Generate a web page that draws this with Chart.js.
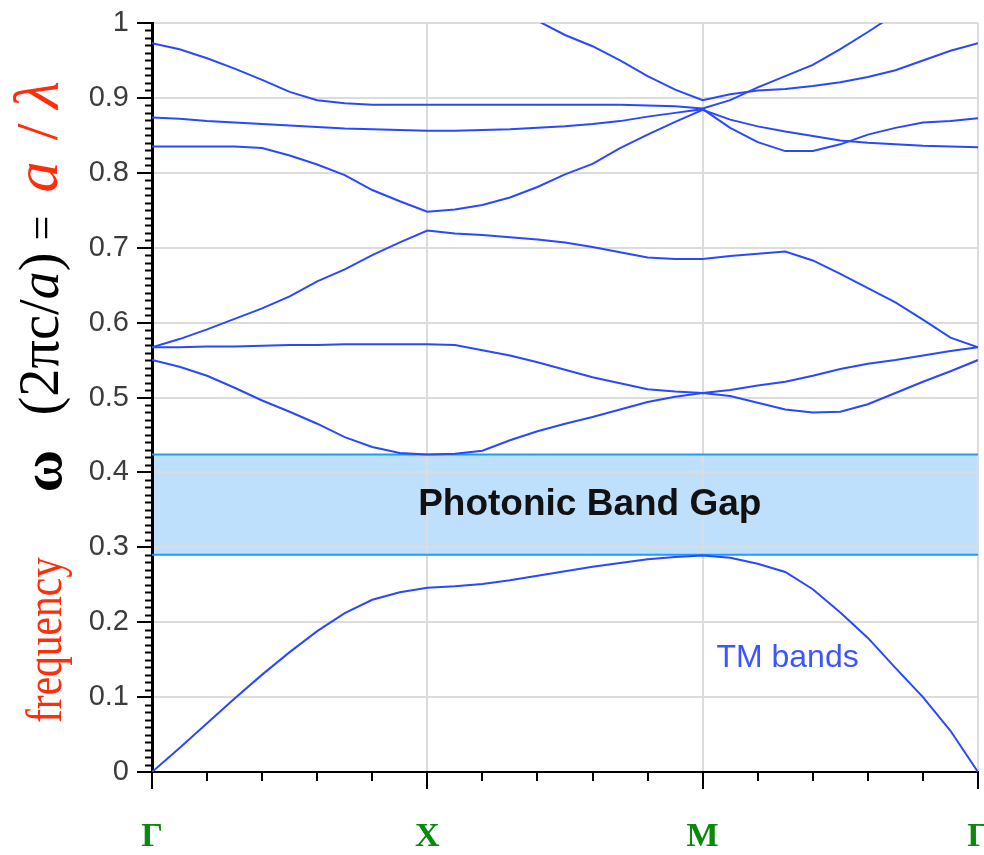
<!DOCTYPE html>
<html>
<head>
<meta charset="utf-8">
<title>TM photonic band structure</title>
<script src="https://cdn.jsdelivr.net/npm/chart.js@4.4.1/dist/chart.umd.min.js"></script>
<style>
  html, body { margin: 0; padding: 0; background: #ffffff; }
  #wrap { width: 984px; height: 855px; }
</style>
</head>
<body>
<div id="wrap"><canvas id="bands" width="984" height="855"></canvas></div>
<script>
// Wave-vector path Γ → X → M → Γ, each segment spanning one unit
const kPath = [0.0, 0.1, 0.2, 0.3, 0.4, 0.5, 0.6, 0.7, 0.8, 0.9,
               1.0, 1.1, 1.2, 1.3, 1.4, 1.5, 1.6, 1.7, 1.8, 1.9,
               2.0, 2.1, 2.2, 2.3, 2.4, 2.5, 2.6, 2.7, 2.8, 2.9, 3.0];
const kLabels = ['Γ', 'X', 'M', 'Γ'];
const yTickLabels = ['0', '0.1', '0.2', '0.3', '0.4', '0.5', '0.6', '0.7', '0.8', '0.9', '1'];

// TM band frequencies ωa/2πc sampled along kPath (null = outside the plotted range)
const band1 = [0.000, 0.032, 0.065, 0.098, 0.130, 0.160, 0.188, 0.212, 0.230, 0.240,
               0.246, 0.248, 0.251, 0.256, 0.262, 0.268, 0.274, 0.279, 0.284, 0.287,
               0.289, 0.286, 0.278, 0.267, 0.244, 0.213, 0.179, 0.139, 0.100, 0.055, 0.000];
const band2 = [0.550, 0.541, 0.529, 0.513, 0.496, 0.481, 0.465, 0.447, 0.434, 0.426,
               0.424, 0.425, 0.429, 0.443, 0.455, 0.465, 0.474, 0.484, 0.494, 0.501,
               0.506, 0.502, 0.493, 0.484, 0.480, 0.481, 0.491, 0.506, 0.521, 0.535, 0.550];
const band3 = [0.567, 0.567, 0.568, 0.568, 0.569, 0.570, 0.570, 0.571, 0.571, 0.571,
               0.571, 0.570, 0.563, 0.556, 0.547, 0.537, 0.527, 0.519, 0.511, 0.508,
               0.506, 0.510, 0.516, 0.521, 0.529, 0.538, 0.545, 0.550, 0.556, 0.562, 0.567];
const band4 = [0.567, 0.578, 0.591, 0.605, 0.619, 0.635, 0.655, 0.671, 0.690, 0.707,
               0.723, 0.719, 0.717, 0.714, 0.711, 0.707, 0.701, 0.694, 0.687, 0.685,
               0.685, 0.689, 0.692, 0.695, 0.683, 0.665, 0.646, 0.627, 0.604, 0.580, 0.567];
const band5 = [0.835, 0.835, 0.835, 0.835, 0.833, 0.823, 0.811, 0.797, 0.777, 0.762,
               0.748, 0.751, 0.757, 0.767, 0.781, 0.798, 0.812, 0.833, 0.851, 0.868,
               0.884, 0.871, 0.862, 0.855, 0.849, 0.843, 0.840, 0.838, 0.836, 0.835, 0.834];
const band6 = [0.874, 0.872, 0.869, 0.867, 0.865, 0.863, 0.861, 0.859, 0.858, 0.857,
               0.856, 0.856, 0.857, 0.858, 0.860, 0.862, 0.865, 0.869, 0.875, 0.880,
               0.885, 0.860, 0.841, 0.829, 0.829, 0.838, 0.851, 0.860, 0.867, 0.869, 0.873];
const band7 = [0.973, 0.965, 0.953, 0.939, 0.924, 0.908, 0.897, 0.893, 0.891, 0.891,
               0.891, 0.891, 0.891, 0.891, 0.891, 0.891, 0.891, 0.891, 0.890, 0.889,
               0.886, 0.897, 0.914, 0.929, 0.944, 0.965, 0.988, 1.012, null, null, null];
const band8 = [null, null, null, null, null, null, null, null, null, null,
               null, null, null, null, 1.003, 0.984, 0.969, 0.950, 0.929, 0.911,
               0.897, 0.905, 0.910, 0.912, 0.916, 0.921, 0.928, 0.937, 0.950, 0.963, 0.973];

// Complete photonic band gap between the first and second TM bands
const gapLow = 0.290;
const gapHigh = 0.424;

const gapLabel = 'Photonic Band Gap';
const seriesLabel = 'TM bands';

const LINE_BLUE = '#2a48ff';
const GRID_GREY = '#dcdcdc';
const TITLE_RED = 'rgb(255,45,10)';

const bands = [band1, band2, band3, band4, band5, band6, band7, band8];
const toPoints = vals => vals.map((v, i) => ({ x: kPath[i], y: v }));

// Shaded band-gap strip: fill under the grid, edges over it
const gapPlugin = {
  id: 'gapStrip',
  beforeDraw(chart) {
    const { ctx, chartArea, scales } = chart;
    const yTop = scales.y.getPixelForValue(gapHigh);
    const yBot = scales.y.getPixelForValue(gapLow);
    ctx.save();
    ctx.fillStyle = 'rgb(191,224,252)';
    ctx.fillRect(chartArea.left, yTop, chartArea.right - chartArea.left, yBot - yTop);
    ctx.restore();
  },
  beforeDatasetsDraw(chart) {
    const { ctx, chartArea, scales } = chart;
    ctx.save();
    ctx.strokeStyle = '#1e9cff';
    ctx.lineWidth = 2;
    [gapHigh, gapLow].forEach(v => {
      const y = scales.y.getPixelForValue(v);
      ctx.beginPath();
      ctx.moveTo(chartArea.left, y);
      ctx.lineTo(chartArea.right, y);
      ctx.stroke();
    });
    ctx.restore();
  },
  afterDatasetsDraw(chart) {
    const { ctx, scales } = chart;
    ctx.save();
    ctx.fillStyle = '#111111';
    ctx.font = 'bold 37px "Liberation Sans", Arial, sans-serif';
    ctx.textAlign = 'center';
    ctx.textBaseline = 'middle';
    ctx.fillText(gapLabel, scales.x.getPixelForValue(1.59), scales.y.getPixelForValue((gapLow + gapHigh) / 2));
    ctx.fillStyle = '#3b55ff';
    ctx.font = '32px "Liberation Sans", Arial, sans-serif';
    ctx.textAlign = 'left';
    ctx.textBaseline = 'alphabetic';
    ctx.fillText(seriesLabel, scales.x.getPixelForValue(2.05), scales.y.getPixelForValue(0.14));
    ctx.restore();
  }
};

// Short minor tick marks on both axes
const minorTickPlugin = {
  id: 'minorTicks',
  afterDraw(chart) {
    const { ctx, chartArea, scales } = chart;
    ctx.save();
    ctx.strokeStyle = '#000';
    ctx.lineWidth = 2;
    ctx.beginPath();
    for (let i = 1; i < 100; i++) {
      if (i % 10 === 0) continue;
      const y = Math.round(scales.y.getPixelForValue(i / 100)) + 0.5;
      ctx.moveTo(chartArea.left - 7, y);
      ctx.lineTo(chartArea.left, y);
    }
    for (let i = 1; i < 15; i++) {
      if (i % 5 === 0) continue;
      const x = Math.round(scales.x.getPixelForValue(i / 5));
      ctx.moveTo(x, chartArea.bottom);
      ctx.lineTo(x, chartArea.bottom + 9);
    }
    ctx.stroke();
    ctx.restore();
  }
};

// Rotated, mixed-style y-axis title; optional length squeezes a group along its reading direction
function drawRotated(ctx, baseX, centerY, runs, length) {
  let total = 0;
  runs.forEach(r => { ctx.font = r.font; r.w = ctx.measureText(r.text).width; total += r.w; });
  const sx = length ? length / total : 1;
  ctx.save();
  ctx.translate(baseX, centerY);
  ctx.rotate(-Math.PI / 2);
  ctx.scale(sx, 1);
  ctx.textAlign = 'left';
  ctx.textBaseline = 'alphabetic';
  let pos = -total / 2;
  runs.forEach(r => {
    ctx.font = r.font;
    ctx.fillStyle = r.color;
    ctx.fillText(r.text, pos, 0);
    pos += r.w;
  });
  ctx.restore();
}

const SERIF = '"Liberation Serif", "Times New Roman", serif';
const axisTitlePlugin = {
  id: 'axisTitle',
  afterDraw(chart) {
    const ctx = chart.ctx;
    drawRotated(ctx, 61, 640, [{ text: 'frequency', font: '50px ' + SERIF, color: TITLE_RED }], 166);
    drawRotated(ctx, 61, 471, [{ text: 'ω', font: 'bold 58px ' + SERIF, color: '#000' }]);
    drawRotated(ctx, 58, 334, [
      { text: '(2πc/', font: '56px ' + SERIF, color: '#000' },
      { text: 'a', font: 'italic 56px ' + SERIF, color: '#000' },
      { text: ')', font: '56px ' + SERIF, color: '#000' }
    ], 163);
    drawRotated(ctx, 56, 228, [{ text: '=', font: '44px ' + SERIF, color: '#000' }]);
    drawRotated(ctx, 57, 177, [{ text: 'a', font: 'italic 62px ' + SERIF, color: TITLE_RED }]);
    drawRotated(ctx, 57, 132, [{ text: '/', font: '60px ' + SERIF, color: TITLE_RED }]);
    drawRotated(ctx, 58, 95, [{ text: 'λ', font: 'italic 64px ' + SERIF, color: TITLE_RED }]);
  }
};

new Chart(document.getElementById('bands'), {
  type: 'line',
  data: {
    datasets: bands.map((b, i) => ({
      label: 'band ' + (i + 1),
      data: toPoints(b),
      borderColor: LINE_BLUE,
      borderWidth: 2,
      pointRadius: 0,
      tension: 0,
      fill: false,
      spanGaps: false
    }))
  },
  options: {
    responsive: false,
    animation: false,
    devicePixelRatio: 1,
    layout: { padding: { top: 23, right: 6, left: 0, bottom: 0 } },
    plugins: { legend: { display: false }, tooltip: { enabled: false } },
    scales: {
      x: {
        type: 'linear',
        min: 0,
        max: 3,
        ticks: {
          stepSize: 1,
          autoSkip: false,
          maxRotation: 0,
          padding: 28,
          color: '#0a8a0a',
          font: { family: '"Liberation Serif", serif', size: 34, weight: 'bold' },
          callback: (v, i) => kLabels[i]
        },
        grid: { color: GRID_GREY, lineWidth: 2, tickLength: 17, tickColor: '#000', tickWidth: 2 },
        border: { color: '#000', width: 2 },
        afterFit(s) { s.height = 83; s.paddingLeft = 0; s.paddingRight = 0; }
      },
      y: {
        min: 0,
        max: 1,
        ticks: {
          stepSize: 0.1,
          padding: 8,
          color: '#3c3c3c',
          font: { family: '"Liberation Sans", Arial, sans-serif', size: 29 },
          callback: (v, i) => yTickLabels[i]
        },
        grid: { color: GRID_GREY, lineWidth: 2, tickLength: 15, tickColor: '#000', tickWidth: 2 },
        border: { color: '#000', width: 3 },
        afterFit(s) { s.width = 152; s.paddingTop = 0; s.paddingBottom = 0; }
      }
    }
  },
  plugins: [gapPlugin, minorTickPlugin, axisTitlePlugin]
});
</script>
</body>
</html>
